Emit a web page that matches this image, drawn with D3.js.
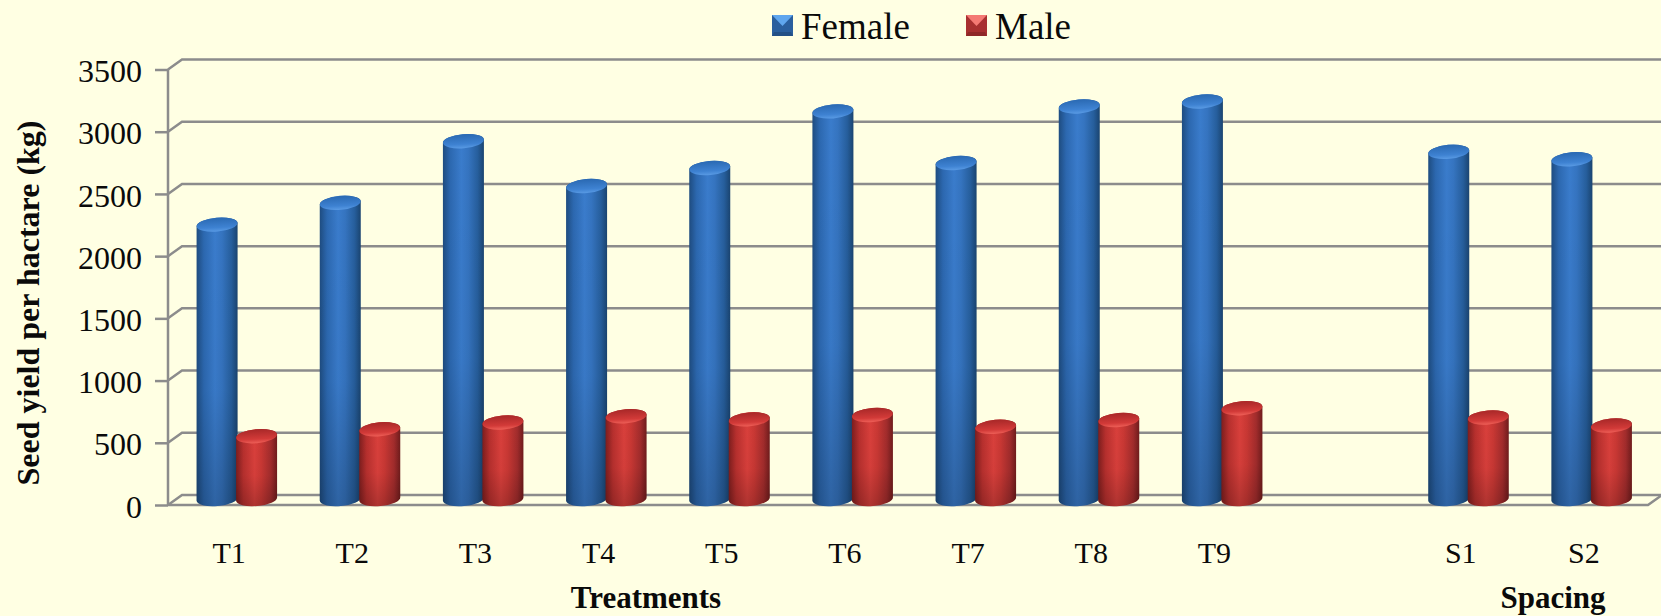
<!DOCTYPE html>
<html><head><meta charset="utf-8">
<script src="https://cdn.jsdelivr.net/npm/d3@7"></script>
<style>html,body{margin:0;padding:0;background:#FFFFE3;overflow:hidden}svg{display:block}text{font-family:"Liberation Serif","Times New Roman",serif;fill:#0a0a0a}</style>
</head><body><div id="chart"></div>
<script>
const categories = ["T1","T2","T3","T4","T5","T6","T7","T8","T9"," ","S1","S2"];
const femaleValues = [2205,2380,2875,2515,2660,3115,2700,3155,3195,null,2790,2730];
const maleValues = [505,560,615,665,640,675,580,635,730,null,655,590];
const seriesNames = ["Female","Male"];
const yTicks = [0,500,1000,1500,2000,2500,3000,3500];
const groupLabels = [["Treatments",646],["Spacing",1553]];
const yTitle = "Seed yield per hactare (kg)";

const W=1661,H=616;
const left=168,right=1648,front0=505,front3500=69.5,dx=14,dy=-10;
const svg=d3.select("#chart").append("svg").attr("width",W).attr("height",H);
svg.append("rect").attr("width",W).attr("height",H).attr("fill","#FFFFE3");
const x=d3.scaleBand().domain(categories).range([left-0.5,right-2.5]);
const y=d3.scaleLinear().domain([0,3500]).range([front0,front3500]);
const defs=svg.append("defs");

const palettes={
 Female:{side:["#1E4C80","#2C68B0","#3A7CCC","#3574C0","#265E9C","#1A4470"],top:["#2A69B2","#3E82D2"],hi:"#5A9BE4",sw:["#5FA6EE","#2E69B0","#2A5F9E"]},
 Male:{side:["#7E1E1E","#B8302E","#DA403C","#CA3834","#A22C2C","#701C1C"],top:["#A82828","#D23A38"],hi:"#EE6058",sw:["#F47A74","#C43A38","#A83030"]}
};
seriesNames.forEach(n=>{
 const p=palettes[n];
 const g=defs.append("linearGradient").attr("id","side"+n);
 [0,.18,.45,.62,.85,1].forEach((o,i)=>g.append("stop").attr("offset",o).attr("stop-color",p.side[i]));
 const t=defs.append("linearGradient").attr("id","top"+n).attr("x1",.5).attr("y1",0).attr("x2",.4).attr("y2",1);
 t.append("stop").attr("offset",0).attr("stop-color",p.top[0]);
 t.append("stop").attr("offset",.7).attr("stop-color",p.top[1]);
 t.append("stop").attr("offset",1).attr("stop-color",p.hi);
});
const fade=defs.append("linearGradient").attr("id","fade").attr("x1",0).attr("y1",0).attr("x2",0).attr("y2",1);
fade.append("stop").attr("offset",0).attr("stop-color","#000").attr("stop-opacity",0);
fade.append("stop").attr("offset",.6).attr("stop-color","#000").attr("stop-opacity",.03);
fade.append("stop").attr("offset",1).attr("stop-color","#000").attr("stop-opacity",.2);

// grid
const grid=svg.append("g").attr("stroke","#8C8C8C").attr("stroke-width",2.5).attr("fill","none");
grid.selectAll("path.g").data(yTicks).join("path").attr("class","g")
 .attr("d",d=>`M${left},${y(d)}L${left+dx},${y(d)+dy}L${W},${y(d)+dy}`);
grid.append("path").attr("d",`M${left},${front0}L${right},${front0}L${right+dx},${front0+dy}`);
grid.append("path").attr("d",`M${left},${y(3500)}L${left},${front0}`);

// y axis
const yAxis=svg.append("g").attr("transform",`translate(${left},0)`).call(d3.axisLeft(y).tickValues(yTicks).tickSize(13).tickPadding(13).tickFormat(d3.format("d")));
yAxis.select(".domain").remove();
yAxis.selectAll("line").attr("stroke","#8C8C8C").attr("stroke-width",2.5);
yAxis.selectAll("text").attr("font-size",32).style("font-family",'"Liberation Serif",serif').attr("fill","#0a0a0a").attr("dy","0.38em");

// x axis
const xAxis=svg.append("g").attr("transform",`translate(0,${front0})`).call(d3.axisBottom(x).tickSize(0).tickPadding(37));
xAxis.select(".domain").remove();
xAxis.selectAll("text").attr("font-size",30).style("font-family",'"Liberation Serif",serif').attr("fill","#0a0a0a");

svg.selectAll("text.group").data(groupLabels).join("text").attr("class","group")
 .attr("x",d=>d[1]).attr("y",608).attr("text-anchor","middle").attr("font-size",31).attr("font-weight","bold").text(d=>d[0]);
svg.append("text").attr("transform","translate(39,303) rotate(-90)").attr("text-anchor","middle").attr("font-size",32).attr("font-weight","bold").text(yTitle);

// bars
const barW=40,rx=20.5,ry=7,tilt=-5,baseY=499;
const barScale=v=>y(v)-(front0-baseY);
const bars=svg.append("g");
const rows=[];
categories.forEach((c,i)=>{
 if(femaleValues[i]!=null){rows.push({c,name:"Female",v:femaleValues[i],off:-barW+7.5});rows.push({c,name:"Male",v:maleValues[i],off:7});}
});
const sl=Math.tan(tilt*Math.PI/180)*rx;
const bar=bars.selectAll("g.bar").data(rows).join("g").attr("class","bar")
 .attr("transform",d=>`translate(${x(d.c)+x.bandwidth()/2+d.off+rx},0)`);
const cyl=d=>{const t=barScale(d.v),b=baseY;
 return `M${-rx},${t-sl}L${-rx},${b-sl}A${rx},${ry} ${tilt} 0 0 ${rx},${b+sl}L${rx},${t+sl}A${rx},${ry} ${tilt} 0 0 ${-rx},${t-sl}Z`;};
bar.append("path").attr("d",cyl).attr("fill",d=>`url(#side${d.name})`);
bar.append("path").attr("d",cyl).attr("fill","url(#fade)");
bar.append("ellipse").attr("rx",rx).attr("ry",ry).attr("fill",d=>`url(#top${d.name})`)
 .attr("transform",d=>`translate(0,${barScale(d.v)}) rotate(${tilt})`);

// legend
const legendX=[772,966];
const leg=svg.selectAll("g.leg").data(seriesNames).join("g").attr("class","leg").attr("transform",(d,i)=>`translate(${legendX[i]},15)`);
seriesNames.forEach(n=>{
 const p=palettes[n],g=leg.filter(d=>d===n);
 g.append("rect").attr("width",21).attr("height",21).attr("fill",p.sw[2]);
 g.append("path").attr("d","M0,0H21L10.5,11Z").attr("fill",p.sw[0]);
 g.append("path").attr("d","M2,17H19L21,21H0Z").attr("fill","#000").attr("opacity",.15);
});
leg.append("text").attr("x",29).attr("y",24).attr("font-size",37).text(d=>d);
</script></body></html>
